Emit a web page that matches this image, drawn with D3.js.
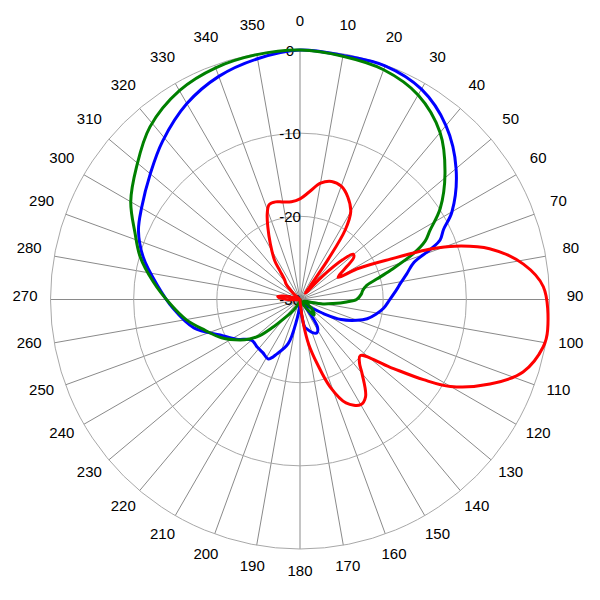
<!DOCTYPE html>
<html>
<head>
<meta charset="utf-8">
<script src="https://cdn.jsdelivr.net/npm/d3@7"></script>
<style>
  html, body { margin: 0; padding: 0; background: #fff; }
  svg { display: block; }
  text { font-family: "Liberation Sans", Arial, sans-serif; }
</style>
</head>
<body>
<svg id="chart" width="600" height="600"></svg>
<script>
// ---- data ----
const angleTicks = d3.range(0, 360, 10);
const ringTicks = [0, -10, -20, -30];

const blueAngles = [0,10,20,30,40,50,60,64,67,69,72,76.5,81,84,90,96,101,106,110,116,121,128,135,140,145,148,153,160,166,170,174,178,185,189,195,203,208,215,222,230,238,246,255,266,276,285,293,300,310,319,330,340,350];
const blueValues = [0,-0.2,-0.1,-0.8,-2.7,-5.5,-8.9,-10.8,-11.7,-13.2,-15.6,-16.8,-17.8,-18.3,-19.2,-19.9,-20.7,-21.6,-22.7,-24.5,-26.7,-28.5,-29,-29.5,-27.5,-26,-25.5,-25.8,-26.3,-26.6,-28,-29.5,-28.8,-27.5,-24.5,-22.9,-21.9,-22.2,-22.3,-22.4,-21,-19.5,-16.8,-14.7,-12.7,-10.5,-8.9,-8.0,-6.5,-4.8,-2.8,-1.45,-0.6];

const greenAngles = [0,10,20,30,40,49,57,62,65,68,72,75,78,82,85,90,93,97,101,105,112,122,130,138,146,160,180,200,211,218,224,228,232,236,244,252,260,268,277,285,292,300,309,319,330,340,350];
const greenValues = [0,-0.3,-0.6,-1.6,-3.8,-6.9,-9.9,-12.3,-13.4,-15.3,-18.5,-20.4,-21.8,-22.4,-22.6,-23.2,-24.4,-26,-27.2,-28.7,-29.5,-29,-28,-27.5,-29,-30,-30,-29.5,-28.5,-27.5,-25.5,-23.5,-22.3,-21.3,-19.5,-18.0,-16.1,-14.4,-12.2,-10.1,-8.6,-6.5,-4.7,-2.5,-1.0,-0.35,-0.1];

const redAngles = [0,5,10,15,20,25,30,33,35,37,40,44,47,49.5,52,55,58,60,62,66,69,71,75,81,87,97,101,108,114,120,123,127,133,137,140,146,150,156,161,165,169,172,176,180,200,240,265,272,278,282,288,300,312,318,322,325,327,332,336,339,342,346,350,355];
const redValues = [-17.9,-17.0,-15.8,-15.3,-15.5,-16.4,-17.8,-20,-24,-28,-29,-26,-23,-21.6,-21.8,-23.2,-24.4,-24.7,-22,-18,-13,-10.3,-6.4,-2.8,-0.7,0,-0.2,-1.8,-5,-9.1,-12.3,-16.5,-20.1,-19.5,-18.4,-15.9,-15.4,-16.4,-18.9,-22,-24.5,-27,-29.5,-30,-30,-30,-29.5,-28,-27.3,-28,-29.5,-30,-29,-27.5,-27,-25.8,-24.4,-22.4,-20.5,-19,-18,-17.9,-18.1,-18.2];

// ---- layout ----
const cx = 300, cy = 299.5, R = 249.5;
const svg = d3.select("#chart");
const g = svg.append("g").attr("transform", `translate(${cx},${cy})`);

const r = d3.scaleLinear().domain([-30, 0]).range([0, R]).clamp(true);
const toRad = d => d * Math.PI / 180;

// spokes
g.selectAll("line.spoke").data(angleTicks).join("line")
  .attr("class", "spoke")
  .attr("x1", 0).attr("y1", 0)
  .attr("x2", d => R * Math.sin(toRad(d)))
  .attr("y2", d => -R * Math.cos(toRad(d)))
  .attr("stroke", "#8a8a8a").attr("stroke-width", 1);

// rings
g.selectAll("circle.ring").data(ringTicks.filter(d => d > -30)).join("circle")
  .attr("class", "ring")
  .attr("r", d => r(d))
  .attr("fill", "none")
  .attr("stroke", "#a8a8a8").attr("stroke-width", 1);

// angle labels
g.selectAll("text.ang").data(angleTicks).join("text")
  .attr("class", "ang")
  .attr("x", d => 275 * Math.sin(toRad(d)))
  .attr("y", d => -275 * Math.cos(toRad(d)) + 1)
  .attr("text-anchor", "middle")
  .attr("font-size", 15)
  .attr("fill", "#000")
  .text(d => d);

// ring labels
g.selectAll("text.ringlab").data(ringTicks).join("text")
  .attr("class", "ringlab")
  .attr("x", -10)
  .attr("y", d => -r(d) + 5.5)
  .attr("text-anchor", "middle")
  .attr("font-size", 15)
  .attr("fill", "#000")
  .text(d => d);

// curves
const line = d3.lineRadial()
  .angle(d => toRad(d[0]))
  .radius(d => r(d[1]))
  .curve(d3.curveCatmullRomClosed.alpha(0.5));

const series = [
  { color: "#0000ff", a: blueAngles, v: blueValues },
  { color: "#008000", a: greenAngles, v: greenValues },
  { color: "#ff0000", a: redAngles, v: redValues }
];

series.forEach(s => {
  const pts = s.a.map((a, i) => [a, s.v[i]]);
  g.append("path")
    .attr("d", line(pts))
    .attr("fill", "none")
    .attr("stroke", s.color)
    .attr("stroke-width", 3)
    .attr("stroke-linejoin", "round");
});
</script>
</body>
</html>
